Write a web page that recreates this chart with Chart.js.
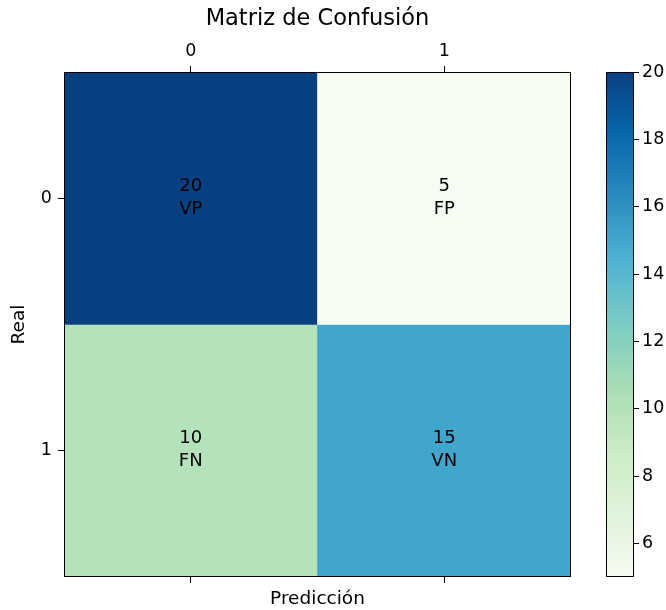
<!DOCTYPE html>
<html>
<head>
<meta charset="utf-8">
<script src="https://cdn.jsdelivr.net/npm/chart.js@4"></script>
<style>
  html, body { margin: 0; padding: 0; background: #fff; }
  #wrap { position: relative; width: 666px; height: 610px; background: #fff; }
  #main { position: absolute; left: 0; top: 0; }
  #cbar { position: absolute; left: 590px; top: 0; }
</style>
</head>
<body>
<div id="wrap">
  <canvas id="main" width="600" height="610"></canvas>
  <canvas id="cbar" width="76" height="610"></canvas>
</div>
<script>
// Confusion matrix data
const classLabels = ['0', '1'];
const rowIndex = [0, 1];
const counts = [
  [20, 5],
  [10, 15]
];
const cellNames = [
  ['VP', 'FP'],
  ['FN', 'VN']
];
const colorbarMin = 5;
const colorbarMax = 20;
const colorbarTicks = [6, 8, 10, 12, 14, 16, 18, 20];

const FONT = 'DejaVu Sans';
const TICK_SIZE = 17.5;
const AXIS_TITLE_SIZE = 18.5;
const CELL_SIZE = 18;
Chart.defaults.color = '#000';
Chart.defaults.font.family = FONT;
Chart.defaults.font.size = TICK_SIZE;
Chart.defaults.animation = false;

// GnBu colour ramp (ColorBrewer, 9 classes)
const gnbu = ['#f7fcf0', '#e0f3db', '#ccebc5', '#a8ddb5', '#7bccc4',
              '#4eb3d3', '#2b8cbe', '#0868ac', '#084081'];
function hexToRgb(h) {
  return [parseInt(h.slice(1, 3), 16), parseInt(h.slice(3, 5), 16), parseInt(h.slice(5, 7), 16)];
}
function colorFor(v) {
  let t = (v - colorbarMin) / (colorbarMax - colorbarMin);
  t = Math.max(0, Math.min(1, t));
  const pos = t * (gnbu.length - 1);
  const i = Math.min(Math.floor(pos), gnbu.length - 2);
  const f = pos - i;
  const a = hexToRgb(gnbu[i]), b = hexToRgb(gnbu[i + 1]);
  const c = a.map((x, k) => Math.round(x + (b[k] - x) * f));
  return `rgb(${c[0]},${c[1]},${c[2]})`;
}

// Black frame around the plotting area
const framePlugin = {
  id: 'frame',
  afterDraw(chart) {
    const { ctx, chartArea: a } = chart;
    ctx.save();
    ctx.strokeStyle = '#000';
    ctx.lineWidth = 1;
    ctx.strokeRect(Math.round(a.left) + 0.5, Math.round(a.top) + 0.5,
                   Math.round(a.right - a.left) - 1, Math.round(a.bottom - a.top) - 1);
    ctx.restore();
  }
};

// Count and name written in the middle of each cell
const cellTextPlugin = {
  id: 'cellText',
  afterDatasetsDraw(chart) {
    const { ctx } = chart;
    const xs = chart.scales.x, ys = chart.scales.y;
    ctx.save();
    ctx.fillStyle = '#000';
    ctx.font = `${CELL_SIZE}px "${FONT}"`;
    ctx.textAlign = 'center';
    ctx.textBaseline = 'middle';
    rowIndex.forEach(r => {
      classLabels.forEach((lab, c) => {
        const px = xs.getPixelForValue(c);
        const py = ys.getPixelForValue(r);
        ctx.fillText(String(counts[r][c]), px, py - 12);
        ctx.fillText(cellNames[r][c], px, py + 11);
      });
    });
    ctx.restore();
  }
};

const datasets = rowIndex.map(r => ({
  label: 'Real ' + r,
  data: classLabels.map(() => [r - 0.5, r + 0.5]),
  backgroundColor: counts[r].map(colorFor),
  borderWidth: 0,
  barPercentage: 1,
  categoryPercentage: 1,
  grouped: false
}));

new Chart(document.getElementById('main'), {
  type: 'bar',
  data: { labels: classLabels, datasets },
  plugins: [framePlugin, cellTextPlugin],
  options: {
    responsive: false,
    devicePixelRatio: 1,
    layout: { padding: { left: 0, right: 29, top: 0, bottom: 0 } },
    plugins: {
      legend: { display: false },
      tooltip: { enabled: false },
      title: { display: false }
    },
    scales: {
      x: {
        type: 'category',
        position: 'top',
        offset: true,
        grid: { display: true, drawOnChartArea: false, offset: false, color: '#000', tickLength: 6, tickWidth: 1 },
        border: { display: false },
        ticks: { padding: 4, maxRotation: 0 },
        title: {
          display: true,
          text: 'Matriz de Confusión',
          font: { size: 22.5, weight: 'normal' },
          padding: { top: 5.5, bottom: 0 }
        },
        afterFit(s) { s.height = 72; }
      },
      x2: {
        type: 'category',
        position: 'bottom',
        labels: classLabels,
        offset: true,
        grid: { display: true, drawOnChartArea: false, offset: false, color: '#000', tickLength: 6, tickWidth: 1 },
        border: { display: false },
        ticks: { display: false },
        title: { display: true, text: 'Predicción', font: { size: AXIS_TITLE_SIZE }, padding: { top: 0, bottom: 0 } },
        afterFit(s) { s.height = 33; }
      },
      y: {
        type: 'linear',
        position: 'left',
        reverse: true,
        min: -0.5,
        max: 1.5,
        afterBuildTicks(s) { s.ticks = rowIndex.map(v => ({ value: v })); },
        grid: { display: true, drawOnChartArea: false, color: '#000', tickLength: 6, tickWidth: 1 },
        border: { display: false },
        ticks: { padding: 6, callback: (v) => classLabels[v] },
        title: { display: true, text: 'Real', font: { size: AXIS_TITLE_SIZE }, padding: { top: 8, bottom: 0 } },
        afterFit(s) { s.width = 64; }
      }
    }
  }
});

// Colour bar
new Chart(document.getElementById('cbar'), {
  type: 'bar',
  data: {
    labels: [''],
    datasets: [{
      data: [[colorbarMin, colorbarMax]],
      borderWidth: 0,
      barPercentage: 1,
      categoryPercentage: 1,
      backgroundColor(ctx) {
        const a = ctx.chart.chartArea;
        if (!a) return gnbu[0];
        const g = ctx.chart.ctx.createLinearGradient(0, a.bottom, 0, a.top);
        gnbu.forEach((c, i) => g.addColorStop(i / (gnbu.length - 1), c));
        return g;
      }
    }]
  },
  plugins: [framePlugin],
  options: {
    responsive: false,
    devicePixelRatio: 1,
    layout: { padding: { left: 16, right: 0, top: 72, bottom: 33 } },
    plugins: { legend: { display: false }, tooltip: { enabled: false } },
    scales: {
      x: { display: false },
      y: {
        type: 'linear',
        position: 'right',
        min: colorbarMin,
        max: colorbarMax,
        afterBuildTicks(s) { s.ticks = colorbarTicks.map(v => ({ value: v })); },
        grid: { display: true, drawOnChartArea: false, color: '#000', tickLength: 5, tickWidth: 1 },
        border: { display: false },
        ticks: { padding: 3 },
        afterFit(s) { s.width = 32; }
      }
    }
  }
});
</script>
</body>
</html>
